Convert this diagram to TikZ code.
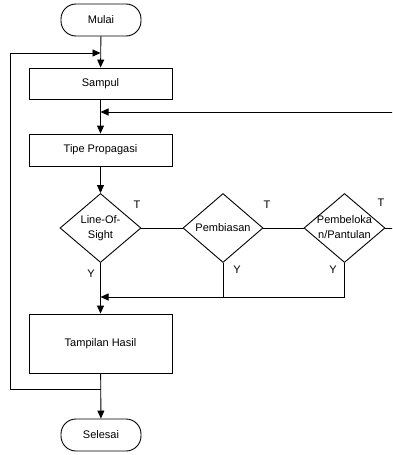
\documentclass[tikz,border=0pt]{standalone}
\usepackage{fontspec}
\setmainfont{Liberation Sans}
\usetikzlibrary{shapes.geometric,arrows.meta}
\newcommand\dtext[1]{\makebox[0pt]{\begin{tabular}{@{}c@{}}#1\end{tabular}}}
\begin{document}
\begin{tikzpicture}[x=1pt,y=-1pt,
  every node/.style={font=\fontsize{11}{15}\selectfont},
  line/.style={draw=black,line width=0.9pt},
  flow/.style={line,-{Triangle[length=8pt,width=7pt]}},
  terminal/.style={draw,line width=0.9pt,rectangle,rounded corners=15pt,minimum width=80pt,minimum height=32pt,inner sep=0pt},
  process/.style={draw,line width=0.9pt,rectangle,minimum width=143pt,inner sep=0pt},
  decision/.style={draw,line width=0.9pt,diamond,minimum width=81pt,minimum height=69pt,inner sep=0pt,aspect=1.17},
  lab/.style={inner sep=0pt}]
\useasboundingbox (0,0) rectangle (392,455);
\clip (0,0) rectangle (392,455);

% start / end terminals
\node[terminal] (mulai) at (101,20) {Mulai};
\node[terminal] (selesai) at (101,435) {Selesai};

% process boxes
\node[process,minimum height=31pt] (sampul) at (100.5,83.5) {Sampul};
\node[process,minimum height=32pt] (tipe) at (100.5,150) {Tipe Propagasi};
\node[process,minimum height=59pt] (hasil) at (100.5,343.5) {Tampilan Hasil};

% propagation type decisions
\node[decision] (los) at (100.5,228) {\dtext{Line-Of-\\Sight}};
\node[decision,minimum width=80pt] (bias) at (223,228) {\dtext{Pembiasan}};
\node[decision] (belok) at (344.5,228) {\dtext{Pembeloka\\n/Pantulan}};

% junction points on the main line
\coordinate (jloop) at (100.5,53);
\coordinate (jback) at (100.5,112);
\coordinate (jmerge) at (100.5,297);
\coordinate (jend) at (100.5,389);
\coordinate (left) at (10,389);
\coordinate (right) at (396,228);

% main flow
\draw[flow] (mulai) -- (sampul);
\draw[flow] (sampul) -- (tipe);
\draw[flow] (tipe) -- (los);
\draw[flow] (los) -- (hasil);
\draw[flow] (hasil) -- (selesai);

% "T" branches
\draw[line] (los.east) -- (bias.west);
\draw[line] (bias.east) -- (belok.west);
\draw[flow] (belok.east) -- (right) |- (jback);

% "Y" branches merging into the result box
\draw[line] (bias.south) -- (bias.south |- jmerge);
\draw[flow] (belok.south) |- (jmerge);

% return loop to the start
\draw[flow] (jend) -- (left) |- (jloop);

% branch labels
\node[lab] at (137,205) {T};
\node[lab] at (267,205) {T};
\node[lab] at (381,203) {T};
\node[lab] at (91,274) {Y};
\node[lab] at (237,270) {Y};
\node[lab] at (333,270) {Y};
\end{tikzpicture}
\end{document}
